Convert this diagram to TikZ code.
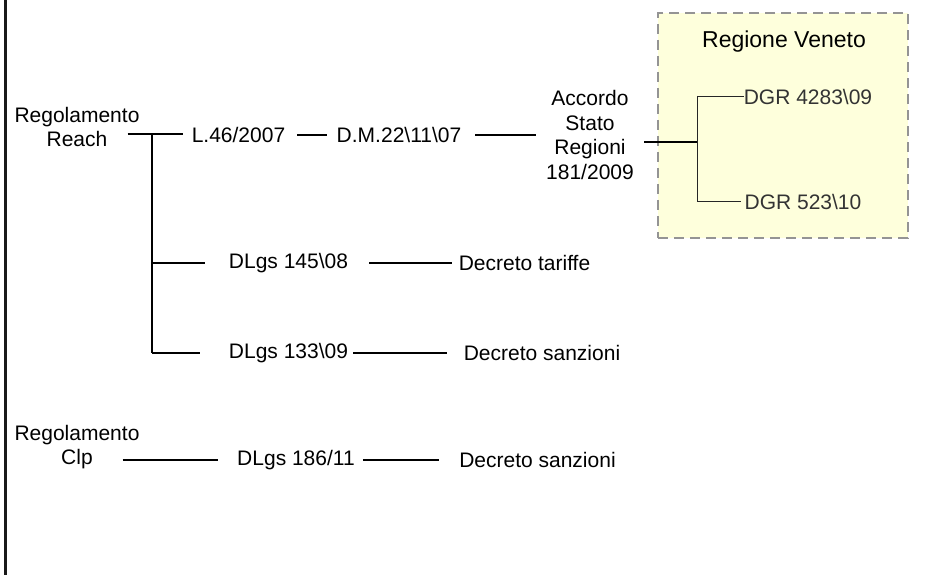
\documentclass[tikz,border=0pt]{standalone}
\usepackage{fontspec}
\setmainfont{Liberation Sans}
\definecolor{boxfill}{HTML}{FEFFDC}
\begin{document}
\begin{tikzpicture}[x=1pt,y=-1pt,
  lbl/.style={inner sep=0pt,font=\fontsize{21}{24.5}\selectfont,align=center,text=black},
  dgr/.style={lbl,text=black!80},
  ln/.style={draw=black,line width=1.2pt},
  lnb/.style={draw=black,line width=1.8pt},
  lnt/.style={draw=black!85,line width=0.9pt}]
\useasboundingbox (0,0) rectangle (951,575);
\fill[white] (0,0) rectangle (951,575);
% left border
\draw[line width=2.7pt,draw=black!90] (5.3,0) -- (5.3,575);
% Regione Veneto box
\node[draw=black!42,dashed,dash pattern=on 10pt off 6pt,line width=2.5pt,fill=boxfill,
  minimum width=250pt,minimum height=225pt,inner sep=0pt] (box) at (783,125.5) {};
\node[lbl,font=\fontsize{23}{26}\selectfont] (rv) at (784,42) {Regione Veneto};
% nodes
\node[lbl] (reach) at (77,127) {Regolamento\\Reach};
\node[lbl] (l46) at (238.5,135) {L.46/2007};
\node[lbl] (dm) at (399,135) {D.M.22\textbackslash 11\textbackslash 07};
\node[lbl] (acc) at (590,135) {Accordo\\Stato\\Regioni\\181/2009};
\node[dgr] (dgr1) at (808,97) {DGR 4283\textbackslash 09};
\node[dgr] (dgr2) at (803,202) {DGR 523\textbackslash 10};
\node[lbl] (dl145) at (288.5,263) {DLgs 145\textbackslash 08};
\node[lbl] (dtar) at (524.5,263) {Decreto tariffe};
\node[lbl] (dl133) at (288.5,353) {DLgs 133\textbackslash 09};
\node[lbl] (dsan1) at (542,353) {Decreto sanzioni};
\node[lbl] (clp) at (77,447) {Regolamento\\Clp};
\node[lbl] (dl186) at (296,460) {DLgs 186/11};
\node[lbl] (dsan2) at (537.5,460) {Decreto sanzioni};
% junctions
\coordinate (jA) at (152,134);
\coordinate (jB) at (697,142);
\coordinate (jB1) at (697,96);
\coordinate (jB2) at (697,201);
% connectors
\draw[ln] ([xshift=-12pt]reach.east |- jA) -- ([xshift=-9pt]l46.west |- jA);
\draw[ln] ([xshift=12pt]l46.east) -- ([xshift=-10pt]dm.west);
\draw[ln] ([xshift=14pt]dm.east) -- ([xshift=-10pt]acc.west |- dm.east);
\draw[ln] ([xshift=10pt]acc.east |- jB) -- (jB);
\draw[lnt] (jB1) -- (jB2);
\draw[lnt] (jB1) -- (dgr1.west |- jB1);
\draw[lnt] (jB2) -- ([xshift=-3pt]dgr2.west |- jB2);
\draw[ln] (jA) -- (jA |- dl133);
\draw[ln] (jA |- dl145) -- ([xshift=-24pt]dl145.west);
\draw[lnb] (jA |- dl133) -- ([xshift=-29pt]dl133.west);
\draw[ln] ([xshift=21pt]dl145.east) -- ([xshift=-7pt]dtar.west);
\draw[lnb] ([xshift=5pt]dl133.east) -- ([xshift=-17pt]dsan1.west);
\draw[ln] ([xshift=-17pt]clp.east |- dl186) -- ([xshift=-19pt]dl186.west);
\draw[ln] ([xshift=8pt]dl186.east) -- ([xshift=-20pt]dsan2.west);
\end{tikzpicture}
\end{document}
